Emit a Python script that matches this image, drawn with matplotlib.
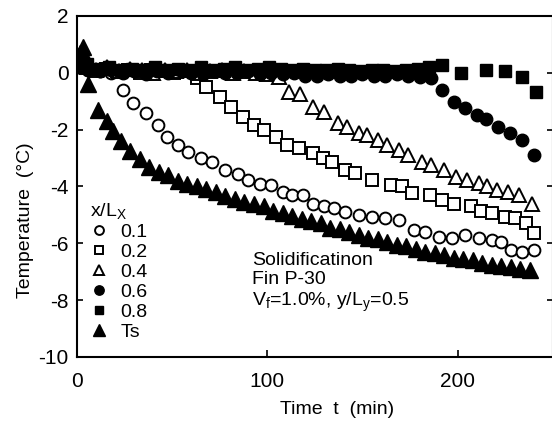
import matplotlib
matplotlib.use("Agg")
import matplotlib.pyplot as plt

plt.rcParams['font.family'] = ['Liberation Sans', 'DejaVu Sans']
plt.rcParams['mathtext.default'] = 'regular'
plt.rcParams['axes.unicode_minus'] = False

# x/Lx = 0.1 (open circles)
t_01 = [0, 6, 12, 18, 24, 29.5, 36.5, 42.5, 47.5, 53, 58.5, 65, 71, 78, 84.5, 90, 96, 102, 108, 113,
        119, 124, 130, 135, 141, 148, 155, 162, 169, 177, 183, 190, 197, 204, 211, 218, 223, 228, 234, 240]
T_01 = [0.2, 0.1, 0.05, 0.0, -0.6, -1.07, -1.43, -1.84, -2.25, -2.55, -2.8, -3.01, -3.13, -3.42, -3.55,
        -3.77, -3.9, -3.95, -4.19, -4.3, -4.3, -4.6, -4.7, -4.77, -4.89, -5.0, -5.07, -5.1, -5.18, -5.54,
        -5.6, -5.77, -5.83, -5.71, -5.83, -5.9, -5.95, -6.24, -6.3, -6.24]

# x/Lx = 0.2 (open squares)
t_02 = [0, 5, 10, 15, 21, 27, 33, 39, 45, 51, 57, 63, 68, 75, 81, 87, 93, 98.5, 104.5, 110.5,
        116.5, 124, 129, 134, 141, 146, 155, 165, 171, 176, 185.5, 192, 198, 207, 212, 218, 225, 230, 236, 240]
T_02 = [0.3, 0.2, 0.1, 0.15, 0.05, 0.1, 0.0, 0.1, 0.05, 0.0, 0.05, -0.2, -0.49, -0.84, -1.19, -1.55,
        -1.84, -2.01, -2.25, -2.54, -2.66, -2.83, -3.01, -3.13, -3.42, -3.54, -3.77, -3.95, -4.0, -4.24,
        -4.3, -4.48, -4.6, -4.68, -4.85, -4.94, -5.07, -5.12, -5.29, -5.64]

# x/Lx = 0.4 (open triangles)
t_04 = [0, 5, 10, 16, 22, 28, 34, 40, 46, 52, 58, 64, 70, 76, 82, 88, 94, 100, 106, 111.5, 117, 124,
        130, 137, 142, 148, 152.5, 158, 163, 169, 174, 181, 186, 193, 199, 205, 211, 215.5, 220.5, 226.5, 232, 239]
T_04 = [0.4, 0.2, 0.1, 0.2, 0.05, 0.15, 0.1, 0.0, 0.1, 0.05, 0.1, 0.0, 0.05, 0.1, 0.0, 0.05, 0.0, -0.05,
        -0.15, -0.66, -0.75, -1.19, -1.37, -1.77, -1.9, -2.13, -2.19, -2.37, -2.54, -2.72, -2.9, -3.13,
        -3.25, -3.42, -3.66, -3.77, -3.89, -4.0, -4.13, -4.19, -4.3, -4.6]

# x/Lx = 0.6 (filled circles)
t_06 = [0, 6, 12, 18, 24, 30, 36, 42, 48, 54, 60, 66, 72, 78, 84, 90, 96, 102, 108, 114, 120, 126,
        132, 138, 144, 150, 156, 162, 168, 174, 180, 186, 192, 198, 204, 210, 215, 221, 227.5, 234, 240]
T_06 = [0.3, 0.1, 0.05, 0.1, 0.0, 0.05, -0.05, 0.05, 0.0, 0.1, 0.0, -0.05, 0.05, 0.0, 0.0, 0.05, -0.05,
        0.0, -0.05, 0.0, -0.1, -0.1, -0.05, -0.1, -0.1, -0.05, -0.1, -0.1, -0.05, -0.1, -0.15, -0.2,
        -0.6, -1.02, -1.25, -1.49, -1.63, -1.9, -2.13, -2.37, -2.9]

# x/Lx = 0.8 (filled squares)
t_08 = [0, 5, 11, 17, 23, 29, 35, 41, 47, 53, 59, 65, 71, 77, 83, 89, 95, 101, 107, 113, 119, 125,
        131, 137, 143, 149, 155, 161, 167, 173, 179, 185, 192, 202, 215, 225, 234, 241]
T_08 = [0.4, 0.3, 0.15, 0.2, 0.1, 0.15, 0.1, 0.2, 0.1, 0.15, 0.1, 0.2, 0.1, 0.15, 0.2, 0.1, 0.15, 0.2,
        0.15, 0.1, 0.15, 0.1, 0.1, 0.15, 0.1, 0.05, 0.1, 0.1, 0.05, 0.1, 0.15, 0.2, 0.27, 0.0, 0.1,
        0.05, -0.15, -0.68]

# Ts (filled triangles)
t_s = [0, 1.5, 3, 4.5, 6, 11, 16, 19, 23, 28, 33, 38, 43, 48, 53, 58, 63, 68, 73, 78, 83, 88, 93, 98,
       103, 108, 113, 118, 123, 128, 133, 138, 143, 148, 153, 158, 163, 168, 173, 178, 183, 188, 193,
       198, 203, 208, 213, 218, 223, 228, 233, 238]
T_s = [0.3, 0.7, 0.9, 0.5, -0.4, -1.3, -1.7, -2.05, -2.4, -2.75, -3.05, -3.3, -3.5, -3.6, -3.8, -3.9,
       -4.0, -4.1, -4.2, -4.35, -4.45, -4.55, -4.6, -4.7, -4.85, -4.95, -5.05, -5.15, -5.2, -5.3, -5.45,
       -5.5, -5.6, -5.7, -5.8, -5.85, -5.95, -6.05, -6.1, -6.2, -6.3, -6.35, -6.4, -6.5, -6.55, -6.6,
       -6.7, -6.75, -6.8, -6.85, -6.9, -6.95]

labels = ['0.1', '0.2', '0.4', '0.6', '0.8', 'Ts']

fig = plt.figure(figsize=(5.52, 4.26), dpi=100)
ax = fig.add_axes([0.1395, 0.162, 0.862, 0.8005])

ew = 1.4
h1, = ax.plot(t_01, T_01, 'o', ms=8.5, mfc='white', mec='black', mew=ew, ls='none')
h2, = ax.plot(t_02, T_02, 's', ms=8, mfc='white', mec='black', mew=ew, ls='none')
h4, = ax.plot(t_04, T_04, '^', ms=10, mfc='white', mec='black', mew=ew, ls='none')
h6, = ax.plot(t_06, T_06, 'o', ms=9, color='black', ls='none')
h8, = ax.plot(t_08, T_08, 's', ms=8.5, color='black', ls='none')
hs, = ax.plot(t_s, T_s, '^', ms=11, color='black', ls='none')

ax.set_xlim(0, 250)
ax.set_ylim(-10, 2)
ax.set_xticks([0, 100, 200])
ax.set_yticks([-10, -8, -6, -4, -2, 0, 2])
ax.tick_params(axis='both', labelsize=15, direction='in', width=1.2)
ax.tick_params(axis='x', length=5, pad=11)
ax.tick_params(axis='y', length=4, pad=6, right=True)
for sp in ax.spines.values():
    sp.set_linewidth(1.5)

ax.set_xlabel('Time  t  (min)', fontsize=14)
ax.xaxis.set_label_coords(0.546, -0.13)
ax.set_ylabel('Temperature  (°C)', fontsize=14)
ax.yaxis.set_label_coords(-0.09, 0.40)

leg = ax.legend([h1, h2, h4, h6, h8, hs], labels, title='x/L$_X$', loc='upper left',
                bbox_to_anchor=(0.01, 0.48), frameon=False, fontsize=14, title_fontsize=14,
                handlelength=1.0, handletextpad=0.6, labelspacing=0.12, borderaxespad=0,
                markerscale=0.75)
leg._legend_box.align = 'left'

ax.text(0.368, 0.217,
        'Solidificatinon\nFin P-30\nV$_f$=1.0%, y/L$_y$=0.5',
        transform=ax.transAxes, fontsize=14, va='center', ha='left', linespacing=1.15)

fig.savefig('out.png', dpi=100)
